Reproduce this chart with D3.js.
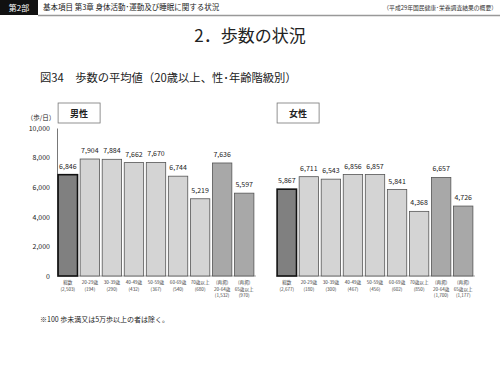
<!DOCTYPE html>
<html>
<head>
<meta charset="utf-8">
<script src="https://cdn.jsdelivr.net/npm/d3@7"></script>
<style>
  body { margin: 0; background: #fff; }
  text { font-family: "Noto Sans CJK JP", "Noto Sans", sans-serif; }
</style>
</head>
<body>
<div id="chart"></div>
<script>
const categories = ['総数', '20-29歳', '30-39歳', '40-49歳', '50-59歳', '60-69歳', '70歳以上', '(再掲)|20-64歳', '(再掲)|65歳以上'];
const maleCounts = ['(2,503)', '(194)', '(290)', '(432)', '(367)', '(540)', '(680)', '(1,532)', '(970)'];
const femaleCounts = ['(2,677)', '(180)', '(300)', '(467)', '(456)', '(602)', '(850)', '(1,700)', '(1,177)'];
const maleValues = [6846, 7904, 7884, 7662, 7670, 6744, 5219, 7636, 5597];
const femaleValues = [5867, 6711, 6543, 6856, 6857, 5841, 4368, 6657, 4726];
const yTicks = [0, 2000, 4000, 6000, 8000, 10000];
const barKinds = ['total', 'age', 'age', 'age', 'age', 'age', 'age', 'recap', 'recap'];

const width = 500;
const height = 375;

const fillColor = { total: '#808080', age: '#d4d4d4', recap: '#a8a8a8' };
const strokeColor = { total: '#111', age: '#555', recap: '#555' };
const strokeWidth = { total: 1.6, age: 0.8, recap: 0.8 };

const svg = d3.select('#chart').append('svg')
  .attr('width', width)
  .attr('height', height);

// header band
svg.append('rect').attr('x', 0).attr('y', 0).attr('width', 38).attr('height', 15).attr('fill', '#111');
svg.append('text').attr('x', 19).attr('y', 10.5).attr('text-anchor', 'middle')
  .attr('fill', '#fff').style('font-size', '8px').text('第2部');
svg.append('text').attr('x', 43).attr('y', 10).style('font-size', '7.5px').attr('fill', '#222')
  .text('基本項目 第3章 身体活動･運動及び睡眠に関する状況');
svg.append('text').attr('x', 497).attr('y', 10).attr('text-anchor', 'end')
  .style('font-size', '5.8px').attr('fill', '#333')
  .text('（平成29年国民健康･栄養調査結果の概要）');
svg.append('line').attr('x1', 38).attr('x2', 500).attr('y1', 15.5).attr('y2', 15.5)
  .attr('stroke', '#999').attr('stroke-width', 1.5);

svg.append('text').attr('x', 250).attr('y', 42).attr('text-anchor', 'middle')
  .style('font-size', '17px').attr('fill', '#222').text('2．歩数の状況');

svg.append('text').attr('x', 40).attr('y', 82).style('font-size', '11.3px').attr('fill', '#222')
  .text('図34　歩数の平均値（20歳以上、性･年齢階級別）');

const yScale = d3.scaleLinear().domain([0, 10000]).range([276, 128]);

const yAxis = d3.axisLeft(yScale)
  .tickValues(yTicks)
  .tickSize(0)
  .tickPadding(7)
  .tickFormat(d3.format(','));

const yG = svg.append('g')
  .attr('transform', 'translate(57,0)')
  .call(yAxis);
yG.select('.domain').attr('stroke', '#555').attr('stroke-width', 0.8);
yG.selectAll('text').style('font-size', '7px').attr('fill', '#222');

svg.append('text').attr('x', 41).attr('y', 120).attr('text-anchor', 'middle')
  .style('font-size', '6.5px').attr('fill', '#222').text('（歩/日）');

const panels = [
  { name: '男性', values: maleValues, counts: maleCounts, range: [57, 255] },
  { name: '女性', values: femaleValues, counts: femaleCounts, range: [276, 474] },
];

panels.forEach((p) => {
  const xScale = d3.scaleBand()
    .domain(categories)
    .range(p.range)
    .paddingInner(0.12)
    .paddingOuter(0.05);

  const g = svg.append('g');

  // panel label box
  const bx = xScale(categories[0]);
  g.append('rect').attr('x', bx).attr('y', 103).attr('width', 42).attr('height', 20)
    .attr('fill', '#fff').attr('stroke', '#777').attr('stroke-width', 0.8);
  g.append('text').attr('x', bx + 21).attr('y', 116.5).attr('text-anchor', 'middle')
    .style('font-size', '9px').style('font-weight', 'bold').attr('fill', '#222').text(p.name);

  g.append('line')
    .attr('x1', p.range[0]).attr('x2', p.range[1] + 1)
    .attr('y1', yScale(0)).attr('y2', yScale(0))
    .attr('stroke', '#aaa').attr('stroke-width', 1);

  g.selectAll('.bar')
    .data(p.values)
    .enter().append('rect')
    .attr('class', 'bar')
    .attr('x', (d, i) => xScale(categories[i]))
    .attr('y', d => yScale(d))
    .attr('width', xScale.bandwidth())
    .attr('height', d => yScale(0) - yScale(d))
    .attr('fill', (d, i) => fillColor[barKinds[i]])
    .attr('stroke', (d, i) => strokeColor[barKinds[i]])
    .attr('stroke-width', (d, i) => strokeWidth[barKinds[i]]);

  g.selectAll('.val')
    .data(p.values)
    .enter().append('text')
    .attr('class', 'val')
    .attr('x', (d, i) => xScale(categories[i]) + xScale.bandwidth() / 2)
    .attr('y', d => yScale(d) - 6)
    .attr('text-anchor', 'middle')
    .style('font-size', '7px')
    .attr('fill', '#222')
    .text(d3.format(','));

  // category labels with sample sizes
  categories.forEach((c, i) => {
    const lines = c.split('|').concat([p.counts[i]]);
    const t = g.append('text')
      .attr('x', xScale(c) + xScale.bandwidth() / 2)
      .attr('y', 284)
      .attr('text-anchor', 'middle')
      .style('font-size', '4.6px')
      .attr('fill', '#444');
    lines.forEach((l, j) => {
      t.append('tspan')
        .attr('x', xScale(c) + xScale.bandwidth() / 2)
        .attr('dy', j === 0 ? 0 : 6.5)
        .text(l);
    });
  });
});

svg.append('text').attr('x', 40).attr('y', 322).style('font-size', '7px').attr('fill', '#222')
  .text('※100 歩未満又は5万歩以上の者は除く。');
</script>
</body>
</html>
